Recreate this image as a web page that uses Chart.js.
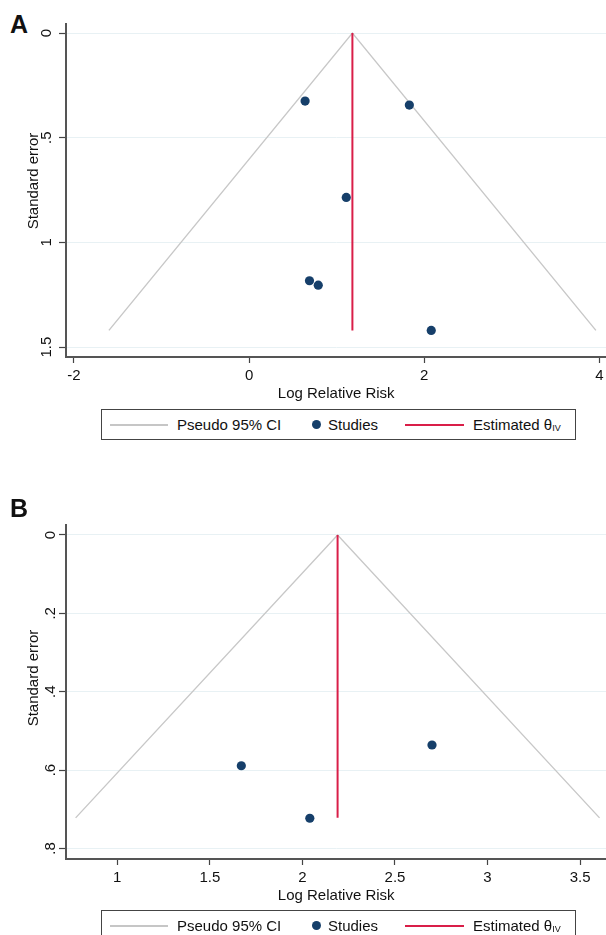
<!DOCTYPE html>
<html>
<head>
<meta charset="utf-8">
<script src="https://cdn.jsdelivr.net/npm/chart.js@4.4.1/dist/chart.umd.min.js"></script>
<style>
  html, body { margin: 0; padding: 0; background: #fff; }
  body { width: 606px; height: 935px; position: relative; overflow: hidden;
         font-family: "Liberation Sans", Arial, sans-serif; color: #111; }
  canvas { position: absolute; left: 0; }
  .tag { position: absolute; left: 10px; font-weight: bold; font-size: 25px; line-height: 25px; }
  .ytitle { position: absolute; width: 200px; height: 18px; line-height: 18px; margin: -9px 0 0 -100px;
            text-align: center; font-size: 15px; transform: rotate(-90deg); }
  .legend { position: absolute; left: 101px; width: 475px; height: 31px;
            border: 1px solid #444; box-sizing: border-box; font-size: 15px; }
  .legend span, .legend i { position: absolute; }
  .legend span { top: 6px; white-space: nowrap; }
  .legend i.ln { top: 14px; height: 0; border-top: 2px solid; }
  .legend i.dot { top: 10px; width: 9px; height: 9px; border-radius: 50%; }
  .legend sub { font-size: 9px; vertical-align: -1px; }
</style>
</head>
<body>
<div class="tag" style="top:12px">A</div>
<!-- canvas is 5px wider than the page so the plot area reaches the right edge -->
<canvas id="chartA" width="611" height="404" style="top:0"></canvas>
<div class="ytitle" style="left:33px;top:181px">Standard error</div>
<div class="legend" style="top:409px">
  <i class="ln" style="left:8px;width:58px;border-color:#c6c6c6"></i><span style="left:75px">Pseudo 95% CI</span>
  <i class="dot" style="left:210px;background:#163f6a"></i><span style="left:226px">Studies</span>
  <i class="ln" style="left:303px;width:59px;border-color:#d91e48"></i><span style="left:371px">Estimated θ<sub>IV</sub></span>
</div>
<div class="tag" style="top:496px">B</div>
<canvas id="chartB" width="611" height="406" style="top:500px"></canvas>
<div class="ytitle" style="left:33px;top:678px">Standard error</div>
<div class="legend" style="top:910px">
  <i class="ln" style="left:8px;width:58px;border-color:#c6c6c6"></i><span style="left:75px">Pseudo 95% CI</span>
  <i class="dot" style="left:210px;background:#163f6a"></i><span style="left:226px">Studies</span>
  <i class="ln" style="left:303px;width:59px;border-color:#d91e48"></i><span style="left:371px">Estimated θ<sub>IV</sub></span>
</div>
<script>
// Panel A
var studyLogRRA = [0.64, 1.83, 1.11, 0.69, 0.79, 2.08];
var studySEA = [0.325, 0.344, 0.785, 1.183, 1.204, 1.42];
var thetaA = 1.18;
var seMaxA = 1.42;
var funnelXA = [-1.60, 1.18, 3.96];
var funnelYA = [1.42, 0, 1.42];
var xTicksA = [-2, 0, 2, 4];
var yTicksA = [0, 0.5, 1, 1.5];

// Panel B
var studyLogRRB = [1.67, 2.04, 2.70];
var studySEB = [0.589, 0.723, 0.536];
var thetaB = 2.19;
var seMaxB = 0.722;
var funnelXB = [0.775, 2.19, 3.605];
var funnelYB = [0.722, 0, 0.722];
var xTicksB = [1, 1.5, 2, 2.5, 3, 3.5];
var yTicksB = [0, 0.2, 0.4, 0.6, 0.8];

function pairs(xs, ys) {
	return xs.map(function(x, i) { return {x: x, y: ys[i]}; });
}

// Stata style: .5 instead of 0.5
function stataLabel(v) {
	return String(Math.round(v * 100) / 100).replace(/^0\./, '.');
}

function funnelChart(id, o) {
	var font = {family: '"Liberation Sans", Arial, sans-serif', size: 15};
	return new Chart(document.getElementById(id), {
		type: 'scatter',
		data: {
			datasets: [{
				label: 'Pseudo 95% CI',
				data: pairs(o.fx, o.fy),
				showLine: true,
				borderColor: '#c8c8c8',
				borderWidth: 1.4,
				pointRadius: 0,
				order: 3
			}, {
				label: 'Estimated θIV',
				data: [{x: o.theta, y: 0}, {x: o.theta, y: o.seMax}],
				showLine: true,
				borderColor: '#d91e48',
				borderWidth: 2,
				pointRadius: 0,
				order: 2
			}, {
				label: 'Studies',
				data: pairs(o.sx, o.sy),
				backgroundColor: '#163f6a',
				borderWidth: 0,
				pointRadius: 4.6,
				order: 1
			}]
		},
		options: {
			responsive: false,
			animation: false,
			layout: {padding: {top: o.padTop, left: 0, right: 0, bottom: 0}},
			plugins: {legend: {display: false}, tooltip: {enabled: false}},
			scales: {
				x: {
					type: 'linear',
					min: o.xMin,
					max: o.xMax,
					afterBuildTicks: function(s) { s.ticks = o.xTicks.map(function(v) { return {value: v}; }); },
					afterFit: function(s) { s.height = o.xHeight; s.paddingLeft = 0; s.paddingRight = 0; },
					grid: {drawOnChartArea: false, tickColor: '#444', tickLength: 6, tickWidth: 1.2},
					border: {color: '#555', width: 2},
					ticks: {color: '#111', font: font, padding: 4, maxRotation: 0, callback: stataLabel},
					title: {display: true, text: 'Log Relative Risk', color: '#111', font: font, padding: {top: 0, bottom: 1}}
				},
				y: {
					type: 'linear',
					reverse: true,
					min: o.yMin,
					max: o.yMax,
					afterBuildTicks: function(s) { s.ticks = o.yTicks.map(function(v) { return {value: v}; }); },
					afterFit: function(s) { s.width = 66; s.paddingTop = 0; s.paddingBottom = 0; },
					grid: {color: '#e8f1f4', lineWidth: 1, tickColor: '#444', tickLength: 7, tickWidth: 1.2},
					border: {color: '#555', width: 2},
					ticks: {color: '#111', font: font, padding: 2, minRotation: 90, maxRotation: 90, crossAlign: 'center', callback: stataLabel}
				}
			}
		}
	});
}

funnelChart('chartA', {
	sx: studyLogRRA, sy: studySEA, theta: thetaA, seMax: seMaxA,
	fx: funnelXA, fy: funnelYA, xTicks: xTicksA, yTicks: yTicksA,
	xMin: -2.09, xMax: 4.08, yMin: -0.043, yMax: 1.547,
	padTop: 24, xHeight: 47
});

funnelChart('chartB', {
	sx: studyLogRRB, sy: studySEB, theta: thetaB, seMax: seMaxB,
	fx: funnelXB, fy: funnelYB, xTicks: xTicksB, yTicks: yTicksB,
	xMin: 0.723, xMax: 3.642, yMin: -0.0255, yMax: 0.827,
	padTop: 25, xHeight: 47
});
</script>
</body>
</html>
